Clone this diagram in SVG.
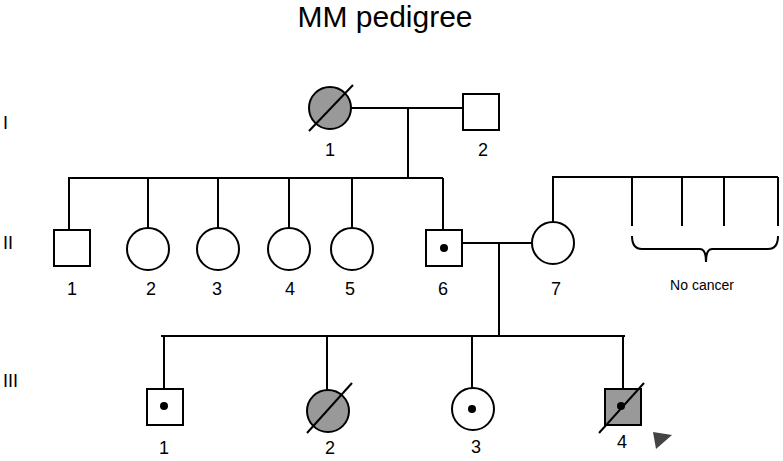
<svg xmlns="http://www.w3.org/2000/svg" width="783" height="461" viewBox="0 0 783 461">
<style>
.s{fill:#fff;stroke:#000;stroke-width:2}
.a{fill:#999;stroke:#000;stroke-width:2}
.l{fill:none;stroke:#000;stroke-width:2}
.d{fill:#000}
.t{font-family:"Liberation Sans",Arial,sans-serif;font-size:18px;text-anchor:middle;fill:#000}
.g{font-family:"Liberation Sans",Arial,sans-serif;font-size:18px;fill:#000}
</style>
<rect width="783" height="461" fill="#fff"/>
<text x="385" y="27" class="t" style="font-size:30px">MM pedigree</text>
<text x="3" y="129" class="g">I</text>
<text x="3" y="249" class="g">II</text>
<text x="3" y="387" class="g">III</text>
<g id="connectors">
<path class="l" d="M351,108H463 M408,108V178 M68,178H443 M69,178V230 M148,178V228 M218,178V228 M289,178V228 M352,178V228 M443,178V230"/>
<path class="l" d="M462,243H532 M499,243V336 M161,336H625 M164,336V389 M327,336V390 M472,336V388 M623,336V389"/>
<path class="l" d="M553,222V177H778 M632,177V226 M682,177V226 M724,177V226 M778,177V226"/>
<path class="l" d="M632,236Q632,249 642,249L700,249Q706,249 706,262Q706,249 712,249L768,249Q778,249 778,236"/>
</g>
<g id="I-1"><circle class="a" cx="330" cy="108" r="21"/><path class="l" d="M309,131L353,85"/><text x="330" y="156" class="t">1</text></g>
<g id="I-2"><rect class="s" x="463" y="94" width="36" height="36"/><text x="483" y="156" class="t">2</text></g>
<g id="II-1"><rect class="s" x="54" y="230" width="36" height="36"/><text x="72" y="295" class="t">1</text></g>
<g id="II-2"><circle class="s" cx="148" cy="249" r="21"/><text x="151" y="295" class="t">2</text></g>
<g id="II-3"><circle class="s" cx="218" cy="249" r="21"/><text x="217" y="295" class="t">3</text></g>
<g id="II-4"><circle class="s" cx="289" cy="249" r="21"/><text x="290" y="295" class="t">4</text></g>
<g id="II-5"><circle class="s" cx="352" cy="249" r="21"/><text x="350" y="295" class="t">5</text></g>
<g id="II-6"><rect class="s" x="426" y="230" width="36" height="36"/><circle class="d" cx="444" cy="248" r="4"/><text x="443" y="295" class="t">6</text></g>
<g id="II-7"><circle class="s" cx="553" cy="243" r="21"/><text x="556" y="295" class="t">7</text></g>
<g id="no-cancer"><text x="702" y="290" class="t" style="font-size:14px">No cancer</text></g>
<g id="III-1"><rect class="s" x="147" y="389" width="36" height="36"/><circle class="d" cx="164" cy="406" r="4"/><text x="164" y="454" class="t">1</text></g>
<g id="III-2"><circle class="a" cx="328" cy="411" r="21"/><path class="l" d="M307,433L352,383"/><text x="330" y="454" class="t">2</text></g>
<g id="III-3"><circle class="s" cx="473" cy="409" r="21"/><circle class="d" cx="472" cy="409" r="4"/><text x="476" y="453" class="t">3</text></g>
<g id="III-4"><rect class="a" x="605" y="389" width="36" height="36"/><circle class="d" cx="621" cy="406" r="4"/><path class="l" d="M599,433L644,383"/><text x="622" y="448" class="t">4</text><path d="M653,432L672,435L656,449Z" fill="#444"/></g>
</svg>
